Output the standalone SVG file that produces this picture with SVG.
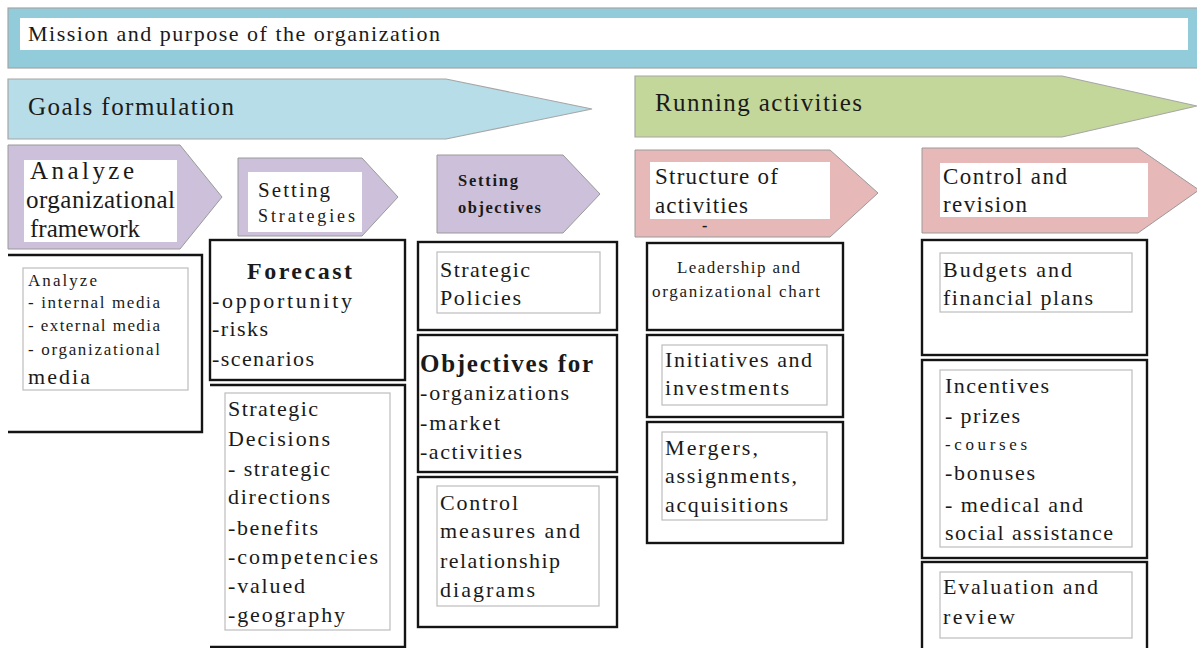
<svg xmlns="http://www.w3.org/2000/svg" width="1197" height="648" viewBox="0 0 1197 648">
  <style>
    text { font-family: "Liberation Serif", "Times New Roman", serif; fill: #1a1a1a; }
    .band { stroke: #a6a6a6; stroke-width: 1.2; }
    .chev { stroke: #9a9a9a; stroke-width: 1; }
    .box { fill: #ffffff; stroke: #141414; stroke-width: 2.4; }
    .open { fill: none; stroke: #141414; stroke-width: 2.4; }
    .inner { fill: #ffffff; stroke: #bdbdbd; stroke-width: 1.2; }
    .white { fill: #ffffff; }
    .head { font-size: 25px; }
    .t20 { font-size: 22px; }
    .t15 { font-size: 17px; }
    .b { font-weight: bold; }
  </style>
  <rect width="1197" height="648" fill="#ffffff"/>

  <!-- mission band -->
  <g id="mission">
    <rect class="band" x="8" y="8" width="1195" height="60" fill="#92cbd9"/>
    <rect class="white" x="20" y="18" width="1168" height="32"/>
    <text x="28" y="41" font-size="22" textLength="412" lengthAdjust="spacing">Mission and purpose of the organization</text>
  </g>

  <!-- phase arrows -->
  <g id="goals-formulation">
    <polygon class="band" points="8,79 446,79 592,109 446,139 8,139" fill="#b7dde8"/>
    <text x="28" y="115" class="head" textLength="206" lengthAdjust="spacing">Goals formulation</text>
  </g>
  <g id="running-activities">
    <polygon class="band" points="635,76 1062,76 1197,106 1062,137 635,137" fill="#c4d79b"/>
    <text x="655" y="111" class="head" textLength="207" lengthAdjust="spacing">Running activities</text>
  </g>

  <!-- step chevrons -->
  <g id="analyze-framework">
    <polygon class="chev" points="8,145 180,145 222,197 180,249 8,249" fill="#ccc0da"/>
    <rect class="white" x="24" y="160" width="153" height="82"/>
    <text x="30" y="179" font-size="25" textLength="104" lengthAdjust="spacing">Analyze</text>
    <text x="26" y="208" font-size="25" textLength="149" lengthAdjust="spacing">organizational</text>
    <text x="30" y="237" font-size="25" textLength="110" lengthAdjust="spacing">framework</text>
  </g>
  <g id="setting-strategies">
    <polygon class="chev" points="238,158 362,158 398,197 362,236 238,236" fill="#ccc0da"/>
    <rect class="white" x="248" y="172" width="114" height="60"/>
    <text x="258" y="197" font-size="21" textLength="72" lengthAdjust="spacing">Setting</text>
    <text x="258" y="222" font-size="18" textLength="97" lengthAdjust="spacing">Strategies</text>
  </g>
  <g id="setting-objectives">
    <polygon class="chev" points="437,155 563,155 600,194 563,233 437,233" fill="#ccc0da"/>
    <text x="458" y="186" font-size="16.5" class="b" textLength="60" lengthAdjust="spacing">Setting</text>
    <text x="458" y="213" font-size="16.5" class="b" textLength="83" lengthAdjust="spacing">objectives</text>
  </g>
  <g id="structure-activities">
    <polygon class="chev" points="635,150 830,150 878,193 830,237 635,237" fill="#e6b8b7"/>
    <rect class="white" x="650" y="162" width="180" height="57"/>
    <text x="655" y="184" font-size="23" textLength="123" lengthAdjust="spacing">Structure of</text>
    <text x="655" y="213" font-size="23" textLength="93" lengthAdjust="spacing">activities</text>
    <text x="702" y="231" font-size="16" class="b">-</text>
  </g>
  <g id="control-revision">
    <polygon class="chev" points="922,148 1138,148 1199,190 1138,233 922,233" fill="#e6b8b7"/>
    <rect class="white" x="940" y="163" width="208" height="54"/>
    <text x="943" y="184" font-size="23" textLength="124" lengthAdjust="spacing">Control and</text>
    <text x="943" y="212" font-size="23" textLength="84" lengthAdjust="spacing">revision</text>
  </g>

  <!-- column 1 -->
  <g id="analyze-media">
    <path class="open" d="M8,255 H202 V432 H8"/>
    <rect class="inner" x="23" y="268" width="165" height="122"/>
    <text x="28" y="286" class="t15" textLength="69" lengthAdjust="spacing">Analyze</text>
    <text x="28" y="308" class="t15" textLength="132" lengthAdjust="spacing">- internal media</text>
    <text x="28" y="331" class="t15" textLength="132" lengthAdjust="spacing">- external media</text>
    <text x="28" y="355" class="t15" textLength="132" lengthAdjust="spacing">- organizational</text>
    <text x="28" y="384" font-size="22" textLength="62" lengthAdjust="spacing">media</text>
  </g>

  <!-- column 2 -->
  <g id="forecast">
    <rect class="box" x="210" y="240" width="195" height="140"/>
    <text x="247" y="279" font-size="24" class="b" textLength="105" lengthAdjust="spacing">Forecast</text>
    <text x="212" y="308" class="t20" textLength="140" lengthAdjust="spacing">-opportunity</text>
    <text x="212" y="336" class="t20" textLength="56" lengthAdjust="spacing">-risks</text>
    <text x="212" y="366" class="t20" textLength="102" lengthAdjust="spacing">-scenarios</text>
  </g>
  <g id="strategic-decisions">
    <path class="open" d="M210,385 H405 V647 H210"/>
    <rect class="inner" x="225" y="393" width="165" height="237"/>
    <text x="228" y="416" class="t20" textLength="90" lengthAdjust="spacing">Strategic</text>
    <text x="228" y="446" class="t20" textLength="102" lengthAdjust="spacing">Decisions</text>
    <text x="228" y="476" class="t20" textLength="102" lengthAdjust="spacing">- strategic</text>
    <text x="228" y="504" class="t20" textLength="102" lengthAdjust="spacing">directions</text>
    <text x="228" y="535" class="t20" textLength="90" lengthAdjust="spacing">-benefits</text>
    <text x="228" y="564" class="t20" textLength="150" lengthAdjust="spacing">-competencies</text>
    <text x="228" y="593" class="t20" textLength="77" lengthAdjust="spacing">-valued</text>
    <text x="228" y="622" class="t20" textLength="117" lengthAdjust="spacing">-geography</text>
  </g>

  <!-- column 3 -->
  <g id="strategic-policies">
    <rect class="box" x="418" y="242" width="199" height="88"/>
    <rect class="inner" x="437" y="252" width="163" height="61"/>
    <text x="440" y="277" class="t20" textLength="90" lengthAdjust="spacing">Strategic</text>
    <text x="440" y="305" class="t20" textLength="81" lengthAdjust="spacing">Policies</text>
  </g>
  <g id="objectives-for">
    <rect class="box" x="418" y="335" width="199" height="137"/>
    <text x="420" y="372" font-size="25" class="b" textLength="173" lengthAdjust="spacing">Objectives for</text>
    <text x="420" y="400" class="t20" textLength="149" lengthAdjust="spacing">-organizations</text>
    <text x="420" y="430" class="t20" textLength="80" lengthAdjust="spacing">-market</text>
    <text x="420" y="459" class="t20" textLength="102" lengthAdjust="spacing">-activities</text>
  </g>
  <g id="control-measures">
    <rect class="box" x="418" y="477" width="199" height="150"/>
    <rect class="inner" x="437" y="486" width="162" height="120"/>
    <text x="440" y="510" class="t20" textLength="78" lengthAdjust="spacing">Control</text>
    <text x="440" y="538" class="t20" textLength="140" lengthAdjust="spacing">measures and</text>
    <text x="440" y="568" class="t20" textLength="120" lengthAdjust="spacing">relationship</text>
    <text x="440" y="597" class="t20" textLength="95" lengthAdjust="spacing">diagrams</text>
  </g>

  <!-- column 4 -->
  <g id="leadership-chart">
    <rect class="box" x="647" y="243" width="196" height="87"/>
    <text x="677" y="273" class="t15" textLength="123" lengthAdjust="spacing">Leadership and</text>
    <text x="652" y="297" class="t15" textLength="168" lengthAdjust="spacing">organizational chart</text>
  </g>
  <g id="initiatives-investments">
    <rect class="box" x="647" y="335" width="196" height="82"/>
    <rect class="inner" x="662" y="345" width="165" height="60"/>
    <text x="665" y="367" class="t20" textLength="147" lengthAdjust="spacing">Initiatives and</text>
    <text x="665" y="395" class="t20" textLength="124" lengthAdjust="spacing">investments</text>
  </g>
  <g id="mergers-acquisitions">
    <rect class="box" x="647" y="422" width="196" height="121"/>
    <rect class="inner" x="662" y="432" width="165" height="88"/>
    <text x="665" y="455" class="t20" textLength="93" lengthAdjust="spacing">Mergers,</text>
    <text x="665" y="483" class="t20" textLength="132" lengthAdjust="spacing">assignments,</text>
    <text x="665" y="512" class="t20" textLength="123" lengthAdjust="spacing">acquisitions</text>
  </g>

  <!-- column 5 -->
  <g id="budgets-plans">
    <rect class="box" x="922" y="240" width="225" height="115"/>
    <rect class="inner" x="940" y="253" width="192" height="59"/>
    <text x="943" y="277" class="t20" textLength="129" lengthAdjust="spacing">Budgets and</text>
    <text x="943" y="305" class="t20" textLength="150" lengthAdjust="spacing">financial plans</text>
  </g>
  <g id="incentives">
    <rect class="box" x="922" y="360" width="225" height="198"/>
    <rect class="inner" x="940" y="370" width="192" height="177"/>
    <text x="945" y="393" class="t20" textLength="104" lengthAdjust="spacing">Incentives</text>
    <text x="945" y="423" class="t20" textLength="75" lengthAdjust="spacing">- prizes</text>
    <text x="945" y="450" class="t15" textLength="82" lengthAdjust="spacing">-courses</text>
    <text x="945" y="480" class="t20" textLength="90" lengthAdjust="spacing">-bonuses</text>
    <text x="945" y="512" class="t20" textLength="138" lengthAdjust="spacing">- medical and</text>
    <text x="945" y="540" class="t20" textLength="168" lengthAdjust="spacing">social assistance</text>
  </g>
  <g id="evaluation-review">
    <rect class="box" x="922" y="562" width="225" height="100"/>
    <rect class="inner" x="940" y="572" width="192" height="66"/>
    <text x="943" y="594" class="t20" textLength="155" lengthAdjust="spacing">Evaluation and</text>
    <text x="943" y="624" class="t20" textLength="72" lengthAdjust="spacing">review</text>
  </g>

  <!-- connectors: none drawn; the chevrons carry the flow -->
  <g id="connectors"/>
</svg>
